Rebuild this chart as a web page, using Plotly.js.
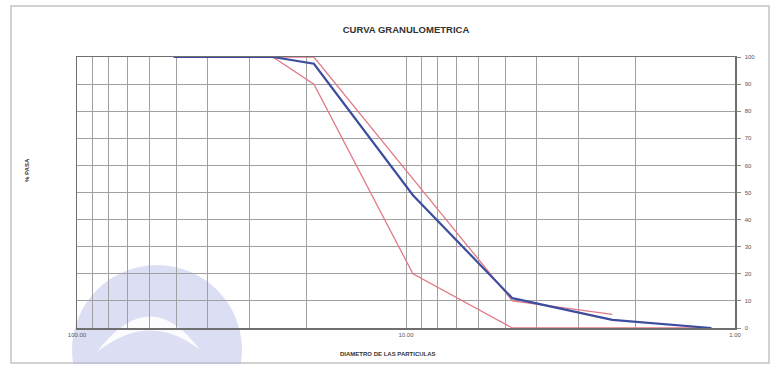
<!DOCTYPE html>
<html>
<head>
<meta charset="utf-8">
<script src="https://cdn.plot.ly/plotly-3.0.1.min.js"></script>
<style>
html,body{margin:0;padding:0;background:#fff;}
#chart{width:774px;height:367px;}
</style>
</head>
<body>
<div id="chart"></div>
<script>
// Sieve openings (mm)
var sieveSizes = [50.8, 38.1, 25.4, 19.05, 9.525, 4.75, 2.36, 1.18];
// Measured % passing (blue curve)
var pctPassing = [100, 100, 100, 97.5, 49, 11, 3, 0];
// Specification limits (red)
var upperSizes = [50.8, 38.1, 25.4, 19.05, 9.525, 4.75, 2.36];
var upperLimit = [100, 100, 100, 100, 55, 10, 5];
var lowerSizes = [50.8, 38.1, 25.4, 19.05, 9.525, 4.75, 2.36, 1.18];
var lowerLimit = [100, 100, 100, 90, 20, 0, 0, 0];

// Axis ticks / labels
var xGridVals = [100, 90, 80, 70, 60, 50, 40, 30, 20, 10, 9, 8, 7, 6, 5, 4, 3, 2, 1];
var xGridText = ['100.00', '', '', '', '', '', '', '', '', '10.00', '', '', '', '', '', '', '', '', '1.00'];
var yTickVals = [0, 10, 20, 30, 40, 50, 60, 70, 80, 90, 100];

var chartTitle = 'CURVA GRANULOMETRICA';
var xTitle = 'DIAMETRO DE LAS PARTICULAS';
var yTitle = '% PASA';

var traces = [
  {x: upperSizes, y: upperLimit, type: 'scatter', mode: 'lines',
   line: {color: '#e27a86', width: 1.3}, hoverinfo: 'x+y'},
  {x: lowerSizes, y: lowerLimit, type: 'scatter', mode: 'lines',
   line: {color: '#e27a86', width: 1.3}, hoverinfo: 'x+y'},
  {x: sieveSizes, y: pctPassing, type: 'scatter', mode: 'lines',
   line: {color: '#3d4d9e', width: 2.2}, hoverinfo: 'x+y'}
];

var layout = {
  width: 774, height: 367,
  margin: {l: 77, r: 39, t: 57, b: 39, pad: 0},
  paper_bgcolor: '#ffffff',
  plot_bgcolor: '#ffffff',
  showlegend: false,
  font: {family: 'Liberation Sans, Arial, sans-serif', color: '#444'},
  title: {
    text: chartTitle,
    font: {size: 9.5, color: '#333', family: 'Liberation Sans, Arial, sans-serif', weight: 'bold'},
    x: 0.5, xref: 'paper', xanchor: 'center',
    y: 0.918, yref: 'container', yanchor: 'middle'
  },
  xaxis: {
    type: 'log',
    range: [2, 0],
    tickmode: 'array',
    tickvals: xGridVals,
    ticktext: xGridText,
    ticks: '',
    showgrid: true,
    gridcolor: '#a0a0a0',
    gridwidth: 1,
    showline: true,
    mirror: true,
    linecolor: '#6f6f6f',
    linewidth: 1.5,
    layer: 'below traces',
    zeroline: false,
    tickfont: {size: 6, color: '#555'},
    tickangle: 0
  },
  yaxis: {
    range: [0, 100],
    side: 'right',
    tickmode: 'array',
    tickvals: yTickVals,
    ticks: 'outside',
    ticklen: 4,
    tickcolor: '#888',
    ticklabelstandoff: 3,
    showgrid: true,
    gridcolor: '#a0a0a0',
    gridwidth: 1,
    showline: true,
    mirror: true,
    linecolor: '#6f6f6f',
    linewidth: 1.5,
    layer: 'below traces',
    zeroline: false,
    tickfont: {size: 6, color: '#555'}
  },
  annotations: [
    {text: '<b>' + xTitle + '</b>', xref: 'paper', yref: 'paper',
     x: (388 - 77) / 658, y: (328 - 354) / 271, xanchor: 'center', yanchor: 'middle',
     showarrow: false, font: {size: 6, color: '#333'}},
    {text: '<b>' + yTitle + '</b>', xref: 'paper', yref: 'paper',
     x: (27 - 77) / 658, y: (328 - 170) / 271, xanchor: 'center', yanchor: 'middle',
     textangle: -90, showarrow: false, font: {size: 6, color: '#333'}}
  ],
  shapes: [
    // outer frame
    {type: 'rect', xref: 'paper', yref: 'paper',
     x0: (11 - 77) / 658, x1: (769 - 77) / 658, y0: (328 - 363) / 271, y1: (328 - 6) / 271,
     line: {color: '#c4c4c4', width: 1.5}, fillcolor: 'rgba(0,0,0,0)', layer: 'below'},
    // watermark circle
    {type: 'circle', xref: 'paper', yref: 'paper',
     x0: (72 - 77) / 658, x1: (242 - 77) / 658, y0: (328 - 435) / 271, y1: (328 - 265) / 271,
     line: {width: 0}, fillcolor: 'rgba(178,182,228,0.45)', layer: 'below'},
    // watermark white crescent
    {type: 'path', xref: 'paper', yref: 'paper',
     path: 'M 0.0304,-0.0886 Q 0.1109,0.1697 0.1869,-0.0812 Q 0.1109,0.0664 0.0304,-0.0886 Z',
     line: {width: 0}, fillcolor: 'rgba(255,255,255,0.9)', layer: 'below'},
    // mask below frame bottom
    {type: 'rect', xref: 'paper', yref: 'paper',
     x0: -0.2, x1: 1.2, y0: (328 - 380) / 271, y1: (328 - 364) / 271,
     line: {width: 0}, fillcolor: '#ffffff', layer: 'below'}
  ]
};

Plotly.newPlot('chart', traces, layout, {displayModeBar: false, staticPlot: true});
</script>
</body>
</html>
